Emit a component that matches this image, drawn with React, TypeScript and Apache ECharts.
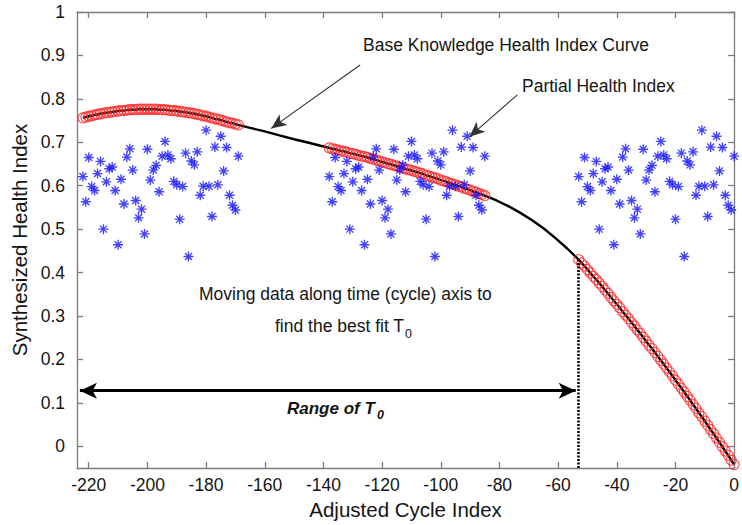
import React, { useEffect, useRef } from "react";
import * as echarts from "echarts";

// ---------- tick labels ----------
const xTicks = [-220, -200, -180, -160, -140, -120, -100, -80, -60, -40, -20, 0];
const yTicks = [0, 0.1, 0.2, 0.3, 0.4, 0.5, 0.6, 0.7, 0.8, 0.9, 1];

// ---------- partial health index (blue stars), one value per cycle ----------
const partialHI = [
  0.621, 0.563, 0.665, 0.598, 0.589, 0.628, 0.656, 0.5, 0.609, 0.639,
  0.643, 0.589, 0.464, 0.615, 0.558, 0.666, 0.685, 0.636, 0.566, 0.526,
  0.546, 0.489, 0.684, 0.613, 0.636, 0.647, 0.586, 0.668, 0.702, 0.671,
  0.662, 0.61, 0.602, 0.523, 0.598, 0.675, 0.437, 0.657, 0.648, 0.678,
  0.578, 0.599, 0.728, 0.599, 0.529, 0.689, 0.602, 0.714, 0.634, 0.688,
  0.578, 0.555, 0.544, 0.668,
];
// start cycles where the partial data are placed (candidate T0 positions)
const placementStarts = [-222, -138, -53];

// ---------- base knowledge health index curve ----------
const curveStartA = -222;
const curveA = [
  0.756, 0.758, 0.76, 0.761, 0.763, 0.764, 0.766, 0.767, 0.768, 0.769,
  0.77, 0.771, 0.772, 0.773, 0.773, 0.774, 0.775, 0.775, 0.775, 0.776,
  0.776, 0.776, 0.776, 0.776, 0.776, 0.776, 0.775, 0.775, 0.775, 0.774,
  0.773, 0.773, 0.772, 0.771, 0.77, 0.769, 0.768, 0.767, 0.766, 0.764,
  0.763, 0.761, 0.76, 0.758, 0.756, 0.754, 0.753, 0.751, 0.749, 0.747,
  0.745, 0.744, 0.742, 0.74,
];
const bridge1Cycles = [-165, -160, -155, -150, -145, -141];
const bridge1 = [0.733, 0.725, 0.716, 0.707, 0.699, 0.692];
const curveStartB = -138;
const curveB = [
  0.687, 0.685, 0.684, 0.682, 0.68, 0.679, 0.677, 0.675, 0.674, 0.672,
  0.67, 0.668, 0.667, 0.665, 0.663, 0.661, 0.659, 0.657, 0.655, 0.653,
  0.651, 0.649, 0.647, 0.645, 0.643, 0.641, 0.639, 0.637, 0.635, 0.633,
  0.631, 0.629, 0.627, 0.624, 0.622, 0.62, 0.618, 0.616, 0.613, 0.611,
  0.609, 0.606, 0.604, 0.602, 0.599, 0.597, 0.594, 0.592, 0.59, 0.587,
  0.585, 0.582, 0.58, 0.577,
];
const bridge2Cycles = [-81, -77, -73, -69, -65, -61, -57];
const bridge2 = [0.566, 0.553, 0.538, 0.521, 0.502, 0.48, 0.456];
const curveStartC = -53;
const curveC = [
  0.43, 0.422, 0.415, 0.407, 0.399, 0.391, 0.384, 0.376, 0.368, 0.36,
  0.352, 0.343, 0.335, 0.327, 0.319, 0.31, 0.302, 0.294, 0.285, 0.277,
  0.268, 0.26, 0.251, 0.242, 0.233, 0.225, 0.216, 0.207, 0.198, 0.189,
  0.18, 0.171, 0.162, 0.152, 0.143, 0.134, 0.125, 0.115, 0.106, 0.096,
  0.087, 0.077, 0.068, 0.058, 0.048, 0.038, 0.029, 0.019, 0.009, -0.001,
  -0.011, -0.021, -0.032, -0.042,
];

// ---------- annotations (data coordinates) ----------
const t0RangeCycles = [-223, -54];
const t0RangeLevel = 0.128;
const bestT0 = -53;
const baseArrow = [[-127.5, 0.878], [-157.8, 0.732]];
const partialArrow = [[-73.9, 0.809], [-90.2, 0.713]];

const FONT = "'Liberation Sans', Arial, Helvetica, sans-serif";
const AXIS_GRAY = "#7c7c7c";
const STAR = "path://M5 0 L5 10 M0 5 L10 5 M1.5 1.5 L8.5 8.5 M8.5 1.5 L1.5 8.5";

const seg = (start: number, vals: number[]) => vals.map((v, i) => [start + i, v]);
const zip = (xs: number[], ys: number[]) => xs.map((x, i) => [x, ys[i]]);

export default function App() {
  const ref = useRef<HTMLDivElement>(null);

  useEffect(() => {
    if (!ref.current) return;
    const chart = echarts.init(ref.current, null, { renderer: "svg" });

    const segA = seg(curveStartA, curveA);
    const segB = seg(curveStartB, curveB);
    const segC = seg(curveStartC, curveC);
    const baseCurve = [...segA, ...zip(bridge1Cycles, bridge1), ...segB, ...zip(bridge2Cycles, bridge2), ...segC];
    const redCircles = [...segA, ...segB, ...segC];
    const stars = placementStarts.flatMap((s) => partialHI.map((v, i) => [s + i, v]));

    const axisCommon = {
      type: "value" as const,
      axisLine: { show: true, onZero: false, lineStyle: { color: AXIS_GRAY, width: 1.3 } },
      splitLine: { show: false },
    };

    const textEl = (text: string, x: number, y: number, size: number, extra: any = {}) => ({
      type: "text",
      x,
      y,
      silent: true,
      style: {
        text,
        fontSize: size,
        fontFamily: FONT,
        fill: "#141414",
        align: "left",
        verticalAlign: "middle",
        ...extra,
      },
    });

    chart.setOption({
      animation: false,
      backgroundColor: "#ffffff",
      grid: { left: 77, right: 2, top: 12, bottom: 57 },
      xAxis: [
        {
          ...axisCommon,
          min: -224,
          max: 0,
          position: "bottom",
          axisTick: { show: true, inside: true, length: 6, customValues: xTicks, lineStyle: { color: AXIS_GRAY, width: 1.3 } },
          axisLabel: { customValues: xTicks, color: "#141414", fontSize: 17.5, fontFamily: FONT, margin: 8 },
          name: "Adjusted Cycle Index",
          nameLocation: "middle",
          nameGap: 27,
          nameTextStyle: { fontSize: 20.5, fontFamily: FONT, color: "#141414" },
        },
        {
          ...axisCommon,
          min: -224,
          max: 0,
          position: "top",
          axisTick: { show: true, inside: true, length: 6, customValues: xTicks, lineStyle: { color: AXIS_GRAY, width: 1.3 } },
          axisLabel: { show: false },
        },
      ],
      yAxis: [
        {
          ...axisCommon,
          min: -0.05,
          max: 1,
          position: "left",
          axisTick: { show: true, inside: true, length: 6, customValues: yTicks, lineStyle: { color: AXIS_GRAY, width: 1.3 } },
          axisLabel: {
            customValues: yTicks,
            color: "#141414",
            fontSize: 17.5,
            fontFamily: FONT,
            margin: 12,
            formatter: (v: number) => String(Math.round(v * 10) / 10),
          },
          name: "Synthesized Health Index",
          nameLocation: "middle",
          nameRotate: 90,
          nameGap: 45,
          nameTextStyle: { fontSize: 20.5, fontFamily: FONT, color: "#141414" },
        },
        {
          ...axisCommon,
          min: -0.05,
          max: 1,
          position: "right",
          axisTick: { show: true, inside: true, length: 6, customValues: yTicks, lineStyle: { color: AXIS_GRAY, width: 1.3 } },
          axisLabel: { show: false },
        },
      ],
      series: [
        {
          name: "Base Knowledge Health Index Curve",
          type: "line",
          data: baseCurve,
          symbol: "none",
          lineStyle: { color: "#000", width: 2.4 },
          z: 2,
          silent: true,
        },
        {
          name: "Moved partial health index on curve",
          type: "scatter",
          data: redCircles,
          symbol: "circle",
          symbolSize: 10,
          itemStyle: { color: "rgba(255,255,255,0)", borderColor: "#ff2424", borderWidth: 1.2 },
          z: 3,
          silent: true,
        },
        {
          name: "Partial Health Index",
          type: "scatter",
          data: stars,
          symbol: STAR,
          symbolSize: 10,
          itemStyle: { color: "rgba(0,0,255,0)", borderColor: "#1414ff", borderWidth: 1.35 },
          z: 4,
          silent: true,
        },
        {
          name: "annotations",
          type: "line",
          data: [],
          silent: true,
          z: 5,
          markLine: {
            silent: true,
            animation: false,
            label: { show: false },
            emphasis: { disabled: true },
            data: [
              [
                { coord: [t0RangeCycles[0], t0RangeLevel], symbol: "arrow", symbolSize: [12, 17], lineStyle: { color: "#000", width: 2.8, type: "solid" } },
                { coord: [t0RangeCycles[1], t0RangeLevel], symbol: "arrow", symbolSize: [12, 17] },
              ],
              [
                { coord: [bestT0, curveC[0]], symbol: "none", lineStyle: { color: "#000", width: 2.6, type: [2, 1.5] } },
                { coord: [bestT0, -0.05], symbol: "none" },
              ],
              [
                { coord: baseArrow[0], symbol: "none", lineStyle: { color: "#333", width: 1.1, type: "solid" } },
                { coord: baseArrow[1], symbol: "arrow", symbolSize: [10, 15] },
              ],
              [
                { coord: partialArrow[0], symbol: "none", lineStyle: { color: "#333", width: 1.1, type: "solid" } },
                { coord: partialArrow[1], symbol: "arrow", symbolSize: [10, 15] },
              ],
            ],
            itemStyle: { color: "#000" },
          },
        },
      ],
      graphic: [
        textEl("Base Knowledge Health Index Curve", 363, 45, 17.5),
        textEl("Partial Health Index", 522, 86, 17.5),
        textEl("Moving data along time (cycle) axis to", 199, 294, 17.5),
        textEl("find the best fit T", 275, 326, 17.5),
        textEl("0", 405, 334, 12.5),
        textEl("Range of T", 287, 408, 17, { fontStyle: "italic", fontWeight: "bold" }),
        textEl("0", 377, 415, 12.5, { fontStyle: "italic", fontWeight: "bold" }),
      ],
    });

    return () => chart.dispose();
  }, []);

  return (
    <div
      ref={ref}
      style={{ position: "fixed", left: 0, top: 0, width: 742, height: 525, background: "#fff" }}
    />
  );
}
